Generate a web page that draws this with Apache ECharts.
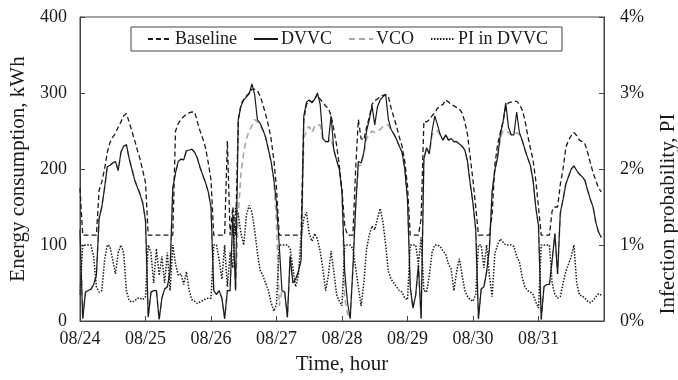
<!DOCTYPE html>
<html>
<head>
<meta charset="utf-8">
<script src="https://cdn.jsdelivr.net/npm/echarts@6/dist/echarts.min.js"></script>
<style>
  html, body { margin: 0; background: #fff; }
  #chart { width: 678px; height: 380px; }
</style>
</head>
<body>
<div id="chart"></div>
<script>
// hourly values, 08/24 00:00 .. 08/31 23:00
const dayLabels = ['08/24', '08/25', '08/26', '08/27', '08/28', '08/29', '08/30', '08/31'];

const baseline = [
  175,113,113,113,113,113,113,172,183,200,222,235,242,247,255,262,270,273,262,250,238,225,213,198,
  182,113,113,113,113,113,113,113,113,113,113,250,260,265,269,272,274,275,275,262,250,240,228,208,
  186,113,113,113,113,113,237,113,150,113,265,285,292,296,300,305,305,303,296,285,272,258,240,213,
  175,113,113,113,113,113,113,113,113,113,265,285,290,288,292,298,292,287,283,280,270,252,232,205,
  172,125,113,113,113,200,265,240,238,255,268,285,290,292,295,297,298,295,280,268,256,242,230,210,
  178,113,113,113,113,135,263,262,265,270,274,280,283,285,291,288,285,283,281,279,274,262,245,215,
  185,150,113,113,113,113,113,140,205,232,248,262,282,287,288,289,289,285,278,265,245,228,212,185,
  150,113,113,113,113,145,150,150,180,200,228,238,244,248,244,238,236,233,222,208,195,185,175,170
];

const dvvc = [
  120,3,38,40,42,48,60,135,150,175,203,205,208,210,198,222,230,232,214,200,186,176,167,155,
  132,5,38,40,40,2,30,42,45,65,175,195,210,213,212,224,225,226,222,214,202,192,182,170,
  150,40,35,40,30,3,40,40,140,40,265,283,291,295,299,312,298,265,260,252,242,226,210,187,
  155,100,40,38,5,85,50,55,65,80,270,288,291,287,292,300,285,240,236,236,270,225,212,200,
  170,65,25,3,70,150,210,208,222,250,265,283,258,282,291,295,298,265,252,246,239,230,222,200,
  160,45,17,34,74,3,213,228,220,250,270,258,245,238,245,238,240,236,236,233,230,225,210,180,
  155,120,3,42,45,65,95,170,198,215,245,262,287,255,245,245,275,248,238,226,215,205,185,150,
  125,2,45,48,48,80,115,62,143,160,180,190,200,204,198,193,190,185,172,160,150,130,117,110
];

const vco = [
  120,3,38,40,42,48,60,135,150,175,203,205,208,210,198,222,230,232,214,200,186,176,167,155,
  132,5,38,40,40,2,30,42,45,65,175,195,210,213,212,224,225,226,222,214,202,192,182,170,
  150,40,35,40,30,3,40,40,140,40,140,195,222,240,250,257,265,262,258,250,242,226,210,187,
  130,20,40,38,5,85,50,55,65,80,240,252,256,248,256,258,258,238,236,236,240,225,212,200,
  170,30,10,3,70,150,205,205,220,240,245,250,248,250,252,256,258,258,250,246,239,230,222,200,
  160,45,17,34,74,3,213,228,220,245,250,250,245,238,245,238,240,236,236,233,230,225,210,180,
  155,120,3,42,45,65,95,170,198,215,240,250,250,248,245,245,248,245,238,226,215,205,185,150,
  125,2,45,48,48,80,115,62,140,160,180,190,200,204,198,193,190,185,172,160,150,130,117,110
];

// infection probability, %
const piDvvc = [
  0.35,1.00,1.00,1.00,1.00,0.85,0.45,0.38,0.40,0.80,1.00,0.98,0.80,0.62,0.90,1.00,0.90,0.40,0.27,0.25,0.26,0.30,0.30,0.28,
  0.32,1.00,0.90,0.50,0.95,0.60,0.85,0.50,0.90,0.40,1.00,0.75,0.60,0.62,0.48,0.65,0.40,0.28,0.26,0.23,0.25,0.27,0.29,0.30,
  0.30,1.00,1.00,0.80,0.55,1.00,0.45,0.90,0.70,1.50,1.40,1.15,1.00,1.40,1.52,1.43,1.20,0.90,0.67,0.60,0.50,0.40,0.25,0.13,
  0.22,1.00,1.00,1.00,1.00,0.95,0.70,0.45,0.60,1.10,1.35,1.43,1.15,1.05,1.15,1.08,0.92,0.68,0.40,0.60,0.92,0.65,0.35,0.26,
  0.20,1.00,1.00,1.00,0.95,0.70,0.45,0.20,0.50,0.95,1.13,1.25,1.20,1.35,1.48,1.30,1.00,0.65,0.55,0.50,0.45,0.40,0.38,0.30,
  0.28,1.00,1.00,1.00,0.75,1.10,0.40,0.38,0.60,0.90,1.00,1.00,0.98,0.92,0.88,0.75,0.68,0.40,0.65,0.82,0.60,0.40,0.32,0.28,
  0.26,0.35,1.00,1.00,0.70,1.00,0.60,0.32,0.88,1.00,1.08,1.04,1.00,1.00,1.00,0.98,0.85,0.78,0.58,0.45,0.40,0.38,0.35,0.25,
  0.17,1.00,1.00,1.00,1.00,0.50,0.35,0.30,0.32,0.50,0.65,0.75,0.85,1.00,0.50,0.34,0.33,0.30,0.26,0.24,0.27,0.32,0.36,0.34
];

const font = 'Liberation Serif';
const ink = '#1a1a1a';
const toPairs = (arr) => arr.map((v, i) => [i, v]);

const chart = echarts.init(document.getElementById('chart'), null, { renderer: 'canvas' });

chart.setOption({
  animation: false,
  backgroundColor: '#fff',
  textStyle: { fontFamily: font, color: ink },
  grid: {
    left: 80, right: 74, top: 17, bottom: 57,
    show: true, borderColor: '#444', borderWidth: 1
  },
  legend: {
    data: ['Baseline', 'DVVC', 'VCO', 'PI in DVVC'],
    left: 131, top: 27,
    padding: [3, 14, 3, 16],
    itemGap: 16,
    itemWidth: 24,
    itemHeight: 10,
    itemStyle: { opacity: 0 },
    borderColor: '#444',
    borderWidth: 1,
    borderRadius: 0,
    textStyle: { fontFamily: font, fontSize: 18, color: ink, padding: [0, 0, 0, -2] }
  },
  xAxis: {
    type: 'value',
    min: 0, max: 192, interval: 24,
    name: 'Time, hour',
    nameLocation: 'middle',
    nameGap: 33,
    nameTextStyle: { fontFamily: font, fontSize: 21, color: ink },
    axisLine: { lineStyle: { color: '#444', width: 1 } },
    axisTick: { inside: true, length: 5, lineStyle: { color: '#444' } },
    axisLabel: {
      fontFamily: font, fontSize: 18, color: ink, margin: 9,
      formatter: (v) => dayLabels[v / 24] || ''
    },
    splitLine: { show: false }
  },
  yAxis: [
    {
      type: 'value',
      min: 0, max: 400, interval: 100,
      name: 'Energy consumption, kWh',
      nameLocation: 'middle',
      nameGap: 48,
      nameTextStyle: { fontFamily: font, fontSize: 21, color: ink },
      axisLine: { show: true, lineStyle: { color: '#444', width: 1 } },
      axisTick: { show: true, inside: true, length: 5, lineStyle: { color: '#444' } },
      axisLabel: { fontFamily: font, fontSize: 18, color: ink, margin: 13 },
      splitLine: { show: false }
    },
    {
      type: 'value',
      position: 'right',
      min: 0, max: 4, interval: 1,
      axisLine: { show: true, lineStyle: { color: '#444', width: 1 } },
      axisTick: { show: true, inside: true, length: 5, lineStyle: { color: '#444' } },
      axisLabel: { fontFamily: font, fontSize: 18, color: ink, margin: 16, formatter: '{value}%' },
      splitLine: { show: false }
    }
  ],
  graphic: [
    {
      type: 'text',
      x: 668, y: 214,
      rotation: Math.PI / 2,
      style: {
        text: 'Infection probability, PI',
        font: '21px "Liberation Serif"',
        fill: ink,
        align: 'center',
        verticalAlign: 'middle'
      }
    }
  ],
  series: [
    {
      name: 'VCO', type: 'line', data: toPairs(vco), symbol: 'none',
      lineStyle: { color: '#a8a8a8', width: 1.6, type: [6, 4] },
      itemStyle: { color: '#a8a8a8' }, z: 1
    },
    {
      name: 'Baseline', type: 'line', data: toPairs(baseline), symbol: 'none',
      lineStyle: { color: ink, width: 1.3, type: [5, 3] },
      itemStyle: { color: ink }, z: 2
    },
    {
      name: 'DVVC', type: 'line', data: toPairs(dvvc), symbol: 'none',
      lineStyle: { color: ink, width: 1.2, type: 'solid' },
      itemStyle: { color: ink }, z: 3
    },
    {
      name: 'PI in DVVC', type: 'line', yAxisIndex: 1, data: toPairs(piDvvc), symbol: 'none',
      lineStyle: { color: ink, width: 1.5, type: [1.5, 1.5] },
      itemStyle: { color: ink }, z: 4
    }
  ]
});
</script>
</body>
</html>
